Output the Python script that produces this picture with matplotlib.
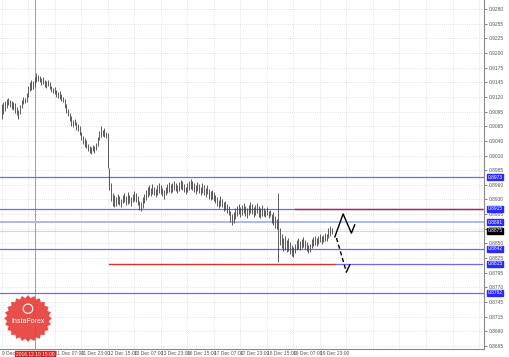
#script to redraw the H1 price chart with levels and projection arrows
import numpy as np
import matplotlib as mpl
import matplotlib.pyplot as plt
from matplotlib.patches import Polygon, Circle

# bar highs / lows (one bar per hour)
highs = [0.9106, 0.9110, 0.9112, 0.9115, 0.9118, 0.9114, 0.9112, 0.9110, 0.9108, 0.9102,
         0.9096, 0.9104, 0.9114, 0.9120, 0.9118, 0.9126, 0.9140, 0.9146, 0.9150, 0.9148,
         0.9156, 0.9163, 0.9160, 0.9158, 0.9154, 0.9156, 0.9150, 0.9148, 0.9150, 0.9146,
         0.9140, 0.9136, 0.9138, 0.9132, 0.9128, 0.9130, 0.9124, 0.9120, 0.9116, 0.9106,
         0.9098, 0.9090, 0.9084, 0.9078, 0.9080, 0.9074, 0.9070, 0.9066, 0.9056, 0.9048,
         0.9044, 0.9040, 0.9034, 0.9030, 0.9028, 0.9032, 0.9030, 0.9036, 0.9046, 0.9058,
         0.9066, 0.9060, 0.9062, 0.9056, 0.9054, 0.8990, 0.8962, 0.8945, 0.8940, 0.8936,
         0.8942, 0.8938, 0.8934, 0.8940, 0.8944, 0.8938, 0.8946, 0.8940, 0.8936, 0.8942,
         0.8948, 0.8944, 0.8938, 0.8930, 0.8928, 0.8936, 0.8942, 0.8950, 0.8956, 0.8958,
         0.8954, 0.8960, 0.8956, 0.8952, 0.8958, 0.8962, 0.8958, 0.8954, 0.8950, 0.8956,
         0.8960, 0.8964, 0.8960, 0.8962, 0.8966, 0.8962, 0.8958, 0.8964, 0.8968, 0.8966,
         0.8960, 0.8956, 0.8962, 0.8966, 0.8970, 0.8966, 0.8962, 0.8958, 0.8964, 0.8960,
         0.8956, 0.8962, 0.8958, 0.8954, 0.8958, 0.8952, 0.8948, 0.8950, 0.8946, 0.8940,
         0.8936, 0.8932, 0.8938, 0.8934, 0.8928, 0.8930, 0.8924, 0.8920, 0.8912, 0.8906,
         0.8910, 0.8916, 0.8920, 0.8924, 0.8918, 0.8922, 0.8926, 0.8920, 0.8916, 0.8922,
         0.8928, 0.8924, 0.8918, 0.8922, 0.8926, 0.8920, 0.8916, 0.8922, 0.8916, 0.8914,
         0.8918, 0.8912, 0.8914, 0.8906, 0.8910, 0.8902, 0.8896, 0.8944, 0.8880, 0.8870,
         0.8862, 0.8866, 0.8858, 0.8862, 0.8854, 0.8850, 0.8846, 0.8852, 0.8858, 0.8862,
         0.8856, 0.8860, 0.8864, 0.8858, 0.8854, 0.8850, 0.8852, 0.8860, 0.8864, 0.8866,
         0.8862, 0.8866, 0.8870, 0.8866, 0.8868, 0.8872, 0.8870, 0.8880, 0.8884, 0.8880]
lows = [0.9080, 0.9088, 0.9094, 0.9100, 0.9104, 0.9101, 0.9098, 0.9095, 0.9090, 0.9086,
        0.9080, 0.9088, 0.9100, 0.9106, 0.9108, 0.9110, 0.9120, 0.9130, 0.9132, 0.9134,
        0.9138, 0.9146, 0.9148, 0.9146, 0.9142, 0.9144, 0.9138, 0.9136, 0.9140, 0.9134,
        0.9128, 0.9126, 0.9124, 0.9120, 0.9118, 0.9116, 0.9112, 0.9110, 0.9100, 0.9090,
        0.9084, 0.9076, 0.9066, 0.9064, 0.9068, 0.9060, 0.9058, 0.9050, 0.9040, 0.9034,
        0.9028, 0.9026, 0.9020, 0.9018, 0.9016, 0.9020, 0.9018, 0.9022, 0.9030, 0.9040,
        0.9046, 0.9048, 0.9046, 0.9044, 0.8990, 0.8950, 0.8930, 0.8920, 0.8918, 0.8920,
        0.8924, 0.8922, 0.8918, 0.8926, 0.8928, 0.8922, 0.8924, 0.8926, 0.8920, 0.8928,
        0.8930, 0.8928, 0.8922, 0.8914, 0.8912, 0.8916, 0.8926, 0.8932, 0.8936, 0.8940,
        0.8938, 0.8942, 0.8940, 0.8936, 0.8940, 0.8944, 0.8942, 0.8938, 0.8934, 0.8940,
        0.8944, 0.8946, 0.8944, 0.8946, 0.8950, 0.8948, 0.8944, 0.8948, 0.8952, 0.8950,
        0.8946, 0.8942, 0.8946, 0.8950, 0.8952, 0.8950, 0.8946, 0.8942, 0.8948, 0.8944,
        0.8940, 0.8944, 0.8940, 0.8936, 0.8942, 0.8934, 0.8932, 0.8934, 0.8930, 0.8926,
        0.8920, 0.8916, 0.8920, 0.8918, 0.8912, 0.8914, 0.8908, 0.8904, 0.8892, 0.8886,
        0.8890, 0.8896, 0.8902, 0.8906, 0.8900, 0.8904, 0.8908, 0.8902, 0.8898, 0.8904,
        0.8908, 0.8906, 0.8900, 0.8904, 0.8908, 0.8900, 0.8898, 0.8902, 0.8902, 0.8900,
        0.8904, 0.8898, 0.8902, 0.8890, 0.8886, 0.8880, 0.8878, 0.8818, 0.8850, 0.8844,
        0.8838, 0.8840, 0.8836, 0.8838, 0.8832, 0.8830, 0.8827, 0.8834, 0.8840, 0.8842,
        0.8840, 0.8844, 0.8846, 0.8842, 0.8838, 0.8834, 0.8836, 0.8844, 0.8848, 0.8850,
        0.8848, 0.8852, 0.8854, 0.8852, 0.8854, 0.8856, 0.8856, 0.8862, 0.8866, 0.8870]
current_price = 0.8875

# horizontal levels
blue_levels = [0.8973, 0.8915, 0.8842, 0.8762]
blue_labels = ['0.8973', '0.8915', '0.8842', '0.8762']
pale_level = 0.8891
red_high = 0.8915
red_low = 0.8815
red_high_span = [177, 290]
red_low_span = [65, 201]
low_blue_span = [201, 290]

# projection arrows
proj_up_x = [201, 206, 211, 213]
proj_up_y = [0.8864, 0.8906, 0.8871, 0.8886]
proj_dn_x = [202, 208]
proj_dn_y = [0.8862, 0.8800]
proj_dn_hook_x = [208, 210]
proj_dn_hook_y = [0.8800, 0.8813]

# axes labels
price_ticks = ['0.8665', '0.8690', '0.8715', '0.8745', '0.8770', '0.8795', '0.8825', '0.8850',
               '0.8880', '0.8905', '0.8930', '0.8960', '0.8985', '0.9010', '0.9040', '0.9065',
               '0.9095', '0.9120', '0.9145', '0.9175', '0.9200', '0.9225', '0.9255', '0.9280']
time_labels = ['9 Dec 23:00', '10 Dec 15:00', '11 Dec 07:00', '11 Dec 23:00', '12 Dec 15:00',
               '13 Dec 07:00', '13 Dec 23:00', '16 Dec 15:00', '17 Dec 07:00', '17 Dec 23:00',
               '18 Dec 15:00', '19 Dec 07:00', '19 Dec 23:00']
cursor_bar = 20
cursor_label = '2016.12.10 15:00'

fs = 3.5
mpl.rcParams['font.family'] = ['Liberation Sans', 'DejaVu Sans']

fig = plt.figure(figsize=(5.1, 3.57), dpi=100)
ax = fig.add_axes([0.0, 8 / 357, 484 / 510, 349 / 357])

bars = np.arange(len(highs))
ax.set_xlim(-1, 291)
ax.set_ylim(0.86595, 0.92964)

# grid
ytick_vals = np.linspace(0.8665, 0.9280, len(price_ticks))
ax.set_yticks(ytick_vals)
ax.set_yticklabels(price_ticks)
xtick_vals = np.arange(0, 291, 16)
ax.set_xticks(xtick_vals)
shown = [t if i != 1 else '' for i, t in enumerate(time_labels)]
shown += [''] * (len(xtick_vals) - len(shown))
ax.set_xticklabels(shown, ha='left')
ax.grid(True, color='#cccccc', linestyle=(0, (1, 2)), linewidth=0.5)

ax.yaxis.tick_right()
ax.tick_params(axis='y', length=2, width=0.5, labelsize=fs, colors='#555555', pad=1.5)
ax.tick_params(axis='x', length=0, labelsize=fs, colors='#555555', pad=1.5)
for side in ['top', 'left']:
    ax.spines[side].set_visible(False)
for side in ['right', 'bottom']:
    ax.spines[side].set_color('#888888')
    ax.spines[side].set_linewidth(0.8)

# cursor line
ax.axvline(cursor_bar, color='#c07878', linewidth=0.6, zorder=2)

# levels
ax.axhline(current_price, color='#d4d4d4', linewidth=0.8, zorder=1)
ax.axhline(pale_level, color='#b0b6f4', linewidth=1.4, zorder=2)
for lvl in blue_levels:
    ax.axhline(lvl, color='#6a6aff', linewidth=0.9, zorder=2)
ax.plot(red_high_span, [red_high, red_high], color='#cc2020', linewidth=1.0, zorder=3)
ax.plot(red_low_span, [red_low, red_low], color='#dd3030', linewidth=1.0, zorder=3)
ax.plot(low_blue_span, [red_low, red_low], color='#6a6aff', linewidth=0.9, zorder=3)

# bars
ax.vlines(bars, lows, highs, color='#404040', linewidth=0.6, zorder=4)

# projections
ax.plot(proj_up_x, proj_up_y, color='black', linewidth=1.0, zorder=5)
ax.plot(proj_dn_x, proj_dn_y, color='black', linewidth=1.0, linestyle=(0, (3, 2)), zorder=5)
ax.plot(proj_dn_hook_x, proj_dn_hook_y, color='black', linewidth=1.0, zorder=5)

# price boxes on the right axis
box = dict(boxstyle='square,pad=0.1', fc='#2a2aff', ec='#2a2aff')
for lvl, txt in zip(blue_levels + [pale_level, red_low], blue_labels + ['0.8891', '0.8815']):
    ax.text(1.008, lvl, txt, transform=ax.get_yaxis_transform(), fontsize=fs,
            color='white', va='center', ha='left', bbox=box, zorder=6)
ax.text(1.008, current_price, f'{current_price:.4f}', transform=ax.get_yaxis_transform(),
        fontsize=fs, color='white', va='center', ha='left',
        bbox=dict(boxstyle='square,pad=0.1', fc='black', ec='black'), zorder=6)

# cursor time box
ax.text(cursor_bar, -0.008, cursor_label, transform=ax.get_xaxis_transform(),
        fontsize=fs, color='white', va='top', ha='center',
        bbox=dict(boxstyle='square,pad=0.15', fc='#e02020', ec='#e02020'), clip_on=False)

# logo
lax = fig.add_axes([3 / 510, 14 / 357, 50 / 510, 49 / 357])
lax.set_xlim(-1.05, 1.05)
lax.set_ylim(-1.05, 1.05)
lax.axis('off')
ang = np.linspace(0, 2 * np.pi, 49)[:-1]
rad = np.where(np.arange(48) % 2 == 0, 1.0, 0.88)
lax.add_patch(Polygon(np.c_[rad * np.cos(ang), rad * np.sin(ang)], closed=True,
                      fc='#e8403a', ec='none', alpha=0.92))
lax.add_patch(Circle((0, 0.42), 0.2, fc='none', ec='white', linewidth=0.8))
lax.text(0, -0.12, 'InstaForex', color='white', fontsize=5, ha='center', va='center')

fig.savefig('out.png', dpi=100)
plt.close()
